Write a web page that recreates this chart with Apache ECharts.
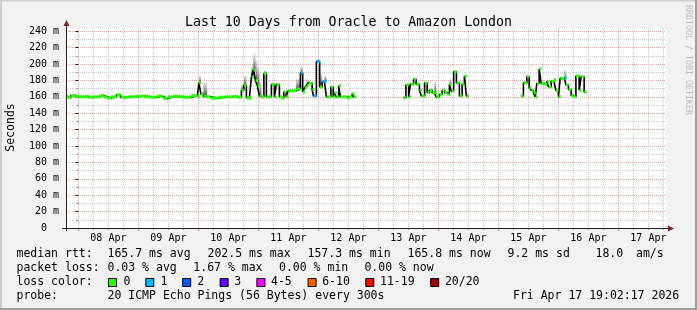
<!DOCTYPE html>
<html><head><meta charset="utf-8">
<script src="https://cdn.jsdelivr.net/npm/echarts@6/dist/echarts.min.js"></script>
<style>html,body{margin:0;padding:0;background:#f2f2f2}#c{width:697px;height:310px}</style>
</head><body><div id="c"></div>
<script>
// time in hours relative to 2026-04-08 00:00; window = last 10 days ending Fri Apr 17 19:02:17
const startHour = -4.96;
const endHour = 235.04;

// median RTT samples (ms); null marks a gap with no data
const hours = [
  -4.96,-4.2,-3.0,-1.0,0.0,2.5,4.0,6.0,8.5,10.0,11.5,13.0,15.2,16.8,20.0,22.5,24.8,26.5,29.0,31.6,33.0,34.0,35.6,38.0,40.0,42.5,45.0,47.6,
  48.2,49.0,50.0,51.5,52.8,56.0,58.8,61.6,63.6,
  65.2,66.2,67.2,68.4,69.2,70.0,70.8,71.6,72.4,73.2,
  74.2,75.2,77.2,78.4,79.2,80.4,81.0,82.2,83.1,83.9,
  87.1,88.8,89.7,90.5,91.2,92.0,92.8,93.5,94.0,95.2,
  96.5,97.5,98.4,99.2,101.0,101.9,102.4,103.1,104.1,104.8,
  107.5,108.0,109.5,110.1,110.8,
  130.0,131.0,132.1,132.8,134.1,135.1,136.4,137.2,138.5,139.5,
  140.4,141.5,142.4,143.1,144.4,145.5,146.5,147.5,148.4,149.2,
  150.1,151.2,152.4,153.5,154.4,155.2,156.0,
  177.0,178.0,179.4,180.3,181.1,182.0,182.7,183.4,184.3,185.1,
  186.4,187.4,188.0,189.1,190.2,191.0,192.0,192.7,194.4,195.0,
  196.0,197.1,198.0,199.0,200.3,201.1,202.3,203.1
];
const rtt = [
  160.5,159,161.5,160.5,160,160.5,159.5,160,161.5,160,158.5,160,162.5,159.5,160,160.5,161,160,159.5,161,160,158,160,160.5,160,159.5,161.5,160,
  177,163.5,160.5,160,158.5,159.5,160,160.5,159.5,
  168,174,159,158.5,184,193,180,173.5,161,160,
  188.5,160,175,160,175,160,158.5,166,160,167.5,
  169.5,189,166,171,174,177,176.5,169,161,203,
  172,178.5,179,160,172,160,165,160,173.5,160,
  158.5,160,164,160,null,
  159,174.5,160,175.5,181.5,175.5,168,161,177,165,
  168,165,165,160,163,168,165,163,175,167,
  190.5,177,161,175.5,185.5,161,null,
  161,177,184.5,171,168,165,160,176.5,194,176.5,
  175.5,179,172,179,180.5,168,160,182.5,183.5,174.5,
  169,161.5,160,185.5,168,184.5,166,null
];
// smoke (spread of the 20 pings) top edge, for samples where it is visible
const smokeHours = [48.2,49.0,50.0,65.2,66.2,69.2,70.0,70.8,71.6,72.4,74.2,87.1,88.8,91.2,95.2,96.5,98.4,142.4,148.4,194.4];
const smokeTop   = [186,166,178,176,186,200,213,205,195,178,192,182,197,182,206,189,186,179,181,193];
// samples with packet loss (pings lost out of 20)
const lossHours = [88.8,94.0,95.2,97.5,98.4,194.4];
const lossValues = [1,1,1,1,1,1];

const dayTickHours = [0,24,48,72,96,120,144,168,192,216];
const sixHourTicks = [6,12,18,30,36,42,54,60,66,78,84,90,102,108,114,126,132,138,150,156,162,174,180,186,198,204,210,222,228,234];
const dayLabelHours = [12,36,60,84,108,132,156,180,204,228];
const dayLabels = ['08 Apr','09 Apr','10 Apr','11 Apr','12 Apr','13 Apr','14 Apr','15 Apr','16 Apr','17 Apr'];
const yMajor = [0,20,40,60,80,100,120,140,160,180,200,220,240];
const yMinor = [10,30,50,70,90,110,130,150,170,190,210,230];

const lossColors = ['#26ff00','#00b8ff','#0059ff','#5e00ff','#ff00ff','#ff5e00','#ff0000','#a10000'];
const lossLegend = ['0','1','2','3','4-5','6-10','11-19','20/20'];
function lossColor(n){
  if(n<=0) return lossColors[0]; if(n===1) return lossColors[1]; if(n===2) return lossColors[2];
  if(n===3) return lossColors[3]; if(n<=5) return lossColors[4]; if(n<=10) return lossColors[5];
  if(n<=19) return lossColors[6]; return lossColors[7];
}

const lineData = [], markData = [], smokeData = [];
for (let i = 0; i < hours.length; i++) {
  const v = rtt[i];
  lineData.push([hours[i], v]);
  if (v == null) continue;
  const next = i + 1 < hours.length ? hours[i+1] : endHour;
  if (i + 1 >= hours.length || rtt[i+1] == null) lineData.push([next, v]);
  const li = lossHours.indexOf(hours[i]);
  markData.push([hours[i], next, v, li >= 0 ? lossValues[li] : 0]);
  const si = smokeHours.indexOf(hours[i]);
  if (si >= 0) smokeData.push([hours[i], next, v, smokeTop[si]]);
}

const MONO = 'DejaVu Sans Mono';
const RED = '#efa2a2', GREY = '#c8c8c8';
const chart = echarts.init(document.getElementById('c'), null, {renderer:'canvas'});

const legendFont = '11.5px "DejaVu Sans Mono"';
const graphics = [
  {type:'line', shape:{x1:0,y1:0.5,x2:697,y2:0.5}, style:{stroke:'#cfcfcf',lineWidth:2}, silent:true},
  {type:'line', shape:{x1:1,y1:0,x2:1,y2:310}, style:{stroke:'#cfcfcf',lineWidth:2}, silent:true},
  {type:'line', shape:{x1:0,y1:309,x2:697,y2:309}, style:{stroke:'#9e9e9e',lineWidth:2}, silent:true},
  {type:'line', shape:{x1:696,y1:0,x2:696,y2:310}, style:{stroke:'#9e9e9e',lineWidth:2}, silent:true},
  // axes with arrows
  {type:'line', shape:{x1:66.5,y1:231,x2:66.5,y2:25}, style:{stroke:'#1f1f1f',lineWidth:1}, silent:true, z:10},
  {type:'line', shape:{x1:62,y1:228.5,x2:669,y2:228.5}, style:{stroke:'#1f1f1f',lineWidth:1}, silent:true, z:10},
  {type:'polygon', shape:{points:[[66.5,20],[63.5,26],[69.5,26]]}, style:{fill:'#801f1f'}, silent:true, z:10},
  {type:'polygon', shape:{points:[[674,228.5],[668,225.5],[668,231.5]]}, style:{fill:'#801f1f'}, silent:true, z:10},
  {type:'text', x:11, y:127.5, rotation:Math.PI/2, style:{text:'Seconds', font:legendFont, fill:'#000', align:'center', verticalAlign:'middle'}},
  {type:'text', x:688, y:60, rotation:-Math.PI/2, style:{text:'RRDTOOL / TOBI OETIKER', font:'8.3px "DejaVu Sans Mono"', fill:'#bdbdbd', align:'center', verticalAlign:'middle'}}
];
function txt(x, y, s){ graphics.push({type:'text', x:x, y:y, style:{text:s, font:legendFont, fill:'#000', align:'left', verticalAlign:'middle'}}); }
const L1 = 254.5, L2 = 268.5, L3 = 282, L4 = 296;
txt(16.5, L1, 'median rtt:'); txt(107.5, L1, '165.7 ms avg'); txt(207.5, L1, '202.5 ms max');
txt(307.5, L1, '157.3 ms min'); txt(407.5, L1, '165.8 ms now'); txt(507.5, L1, '9.2 ms sd');
txt(595.5, L1, '18.0'); txt(636, L1, 'am/s');
txt(16.5, L2, 'packet loss:'); txt(107.5, L2, '0.03 % avg'); txt(193.3, L2, '1.67 % max');
txt(279, L2, '0.00 % min'); txt(364.4, L2, '0.00 % now');
txt(16.5, L3, 'loss color:');
const boxX = [108,145.3,182.2,219.6,256.4,307.6,365.3,430.2];
const boxLabelX = [123.5,160.4,197.3,234.2,271,322.2,380,444.9];
for (let i = 0; i < lossColors.length; i++) {
  graphics.push({type:'rect', shape:{x:boxX[i]+0.5, y:278.5, width:8, height:8}, style:{fill:lossColors[i], stroke:'#000', lineWidth:1}});
  txt(boxLabelX[i], L3, lossLegend[i]);
}
txt(16.5, L4, 'probe:'); txt(107.5, L4, '20 ICMP Echo Pings (56 Bytes) every 300s');
txt(513, L4, 'Fri Apr 17 19:02:17 2026');

const axisBase = {type:'value', min:startHour, max:endHour, axisLine:{show:false}};
chart.setOption({
  animation:false,
  backgroundColor:'#f2f2f2',
  title:{text:'Last 10 Days from Oracle to Amazon London', left:'center', top:11,
    textStyle:{fontFamily:MONO, fontSize:13.25, fontWeight:'normal', color:'#000'}},
  grid:{left:66, top:28, width:600, height:200, show:true, backgroundColor:'#ffffff', borderWidth:0, containLabel:false},
  xAxis:[
    Object.assign({}, axisBase, {position:'bottom',
      axisTick:{show:true, customValues:dayTickHours, length:3, lineStyle:{color:'#e07070'}},
      axisLabel:{customValues:dayLabelHours, margin:5, fontFamily:MONO, fontSize:10, color:'#000',
        formatter:function(v){ const i = dayLabelHours.indexOf(v); return i>=0 ? dayLabels[i] : ''; }},
      splitLine:{show:true, lineStyle:{color:RED, type:[1,1], width:1}}}),
    Object.assign({}, axisBase, {position:'bottom',
      axisTick:{show:true, customValues:sixHourTicks, length:2, lineStyle:{color:'#999'}},
      axisLabel:{show:false},
      splitLine:{show:true, lineStyle:{color:GREY, type:[1,1], width:1}}})
  ],
  yAxis:[
    {type:'value', min:0, max:244, position:'left', axisLine:{show:false},
      axisTick:{show:true, customValues:yMajor, length:3, lineStyle:{color:'#1f1f1f'}},
      axisLabel:{customValues:yMajor, margin:7, fontFamily:MONO, fontSize:10, color:'#000',
        formatter:function(v){ return v === 0 ? '0\u00a0\u00a0' : v + ' m'; }},
      splitLine:{show:true, lineStyle:{color:RED, type:[1,1], width:1}}},
    {type:'value', min:0, max:244, position:'left', axisLine:{show:false},
      axisTick:{show:true, customValues:yMinor, length:2, lineStyle:{color:'#999'}},
      axisLabel:{show:false},
      splitLine:{show:true, lineStyle:{color:GREY, type:[1,1], width:1}}}
  ],
  series:[
    {type:'custom', name:'smoke', xAxisIndex:0, yAxisIndex:0, z:1, clip:true,
      encode:{x:[0,1], y:[2,3]}, data:smokeData,
      renderItem:function(params, api){
        const a = api.coord([api.value(0), api.value(3)]);
        const b = api.coord([api.value(1), api.value(2)]);
        return {type:'rect', shape:{x:a[0], y:a[1], width:Math.max(b[0]-a[0],1.5), height:b[1]-a[1]},
          style:{fill:{type:'linear', x:0, y:0, x2:0, y2:1, colorStops:[
            {offset:0, color:'rgba(0,0,0,0.1)'}, {offset:0.5, color:'rgba(0,0,0,0.35)'}, {offset:1, color:'rgba(0,0,0,0.7)'}]}}};
      }},
    {type:'line', name:'median', xAxisIndex:0, yAxisIndex:0, z:2, step:'end', showSymbol:false,
      data:lineData, connectNulls:false, lineStyle:{color:'#000', width:1.6}, itemStyle:{color:'#000'}},
    {type:'custom', name:'loss', xAxisIndex:0, yAxisIndex:0, z:3, clip:true,
      encode:{x:[0,1], y:2}, data:markData,
      renderItem:function(params, api){
        const a = api.coord([api.value(0), api.value(2)]);
        const b = api.coord([api.value(1), api.value(2)]);
        return {type:'rect', shape:{x:a[0]+0.2, y:a[1]-1.5, width:Math.max(b[0]-a[0], 2.2), height:3},
          style:{fill:lossColor(api.value(3))}};
      }}
  ],
  graphic:graphics
});
</script></body></html>
